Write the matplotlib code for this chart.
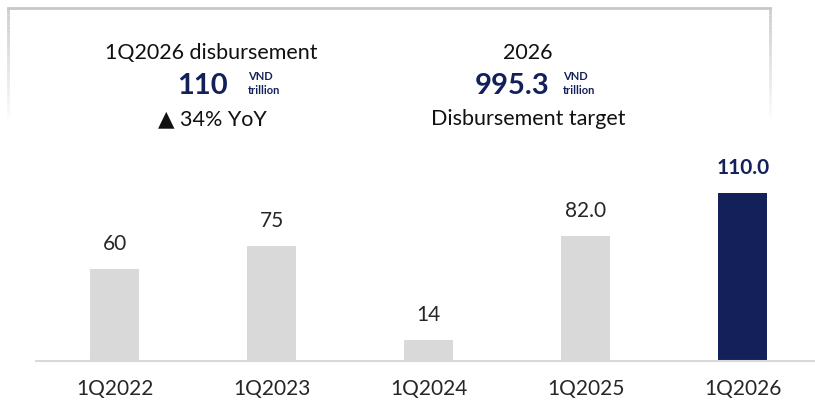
import matplotlib
matplotlib.use("Agg")
import matplotlib.pyplot as plt
import numpy as np
from matplotlib.collections import LineCollection

categories = ["1Q2022", "1Q2023", "1Q2024", "1Q2025", "1Q2026"]
values = [60, 75, 14, 82.0, 110.0]
labels = ["60", "75", "14", "82.0", "110.0"]

W, H = 815, 401
GRAY = "#D9D9D9"
NAVY = "#13205A"
FONT = ["Lato", "DejaVu Sans"]
plt.rcParams["font.family"] = FONT

fig = plt.figure(figsize=(W / 100, H / 100), dpi=100)

def fx(px):
    return px / W

def fy(py):
    return 1 - py / H

base_px = 361
top_px = 140
ax = fig.add_axes([fx(36), fy(base_px), fx(815) - fx(36), (base_px - top_px) / H])
colors = [GRAY] * 4 + [NAVY]
bars = ax.bar(np.arange(len(categories)), values, width=0.31, color=colors, zorder=2)
ax.set_xlim(-0.5, 4.46)
ax.set_ylim(0, (base_px - top_px) / 1.527)
for s in ["top", "right", "left"]:
    ax.spines[s].set_visible(False)
ax.spines["bottom"].set_color(GRAY)
ax.spines["bottom"].set_linewidth(1.5)
ax.set_yticks([])
ax.set_xticks(np.arange(len(categories)))
ax.set_xticklabels(categories, fontsize=15, color="#262626")
ax.tick_params(axis="x", length=0, pad=13)

for i, (v, lab) in enumerate(zip(values, labels)):
    last = i == len(values) - 1
    ax.annotate(lab, (i, v), xytext=(0, 18), textcoords="offset points",
                ha="center", va="center", fontsize=15,
                color=NAVY if last else "#262626",
                fontweight="bold" if last else "normal")

# header box with fading edges
n = 60
ys = np.linspace(8, 118, n + 1)
for xe in (8, 770):
    segs = [[(fx(xe), fy(ys[k])), (fx(xe), fy(ys[k + 1]))] for k in range(n)]
    alphas = np.linspace(1, 0.05, n)
    cols = [(0.78, 0.78, 0.78, a) for a in alphas]
    fig.add_artist(LineCollection(segs, colors=cols, linewidths=2, transform=fig.transFigure))
fig.add_artist(plt.Line2D([fx(8), fx(770)], [fy(8), fy(8)], color="#C8C8C8", lw=2,
                          transform=fig.transFigure))

# header texts
fig.text(fx(211), fy(53), "1Q2026 disbursement", ha="center", va="center", fontsize=15.5, color="#111111")
fig.text(fx(202), fy(86), "110", ha="center", va="center", fontsize=21, fontweight="bold", color=NAVY)
fig.text(fx(248), fy(76), "VND", ha="left", va="center", fontsize=8, fontweight="bold", color=NAVY)
fig.text(fx(248), fy(91), "trillion", ha="left", va="center", fontsize=8, fontweight="bold", color=NAVY)
fig.text(fx(212), fy(119), "\u25B2 34% YoY", ha="center", va="center", fontsize=15.5, color="#111111")

fig.text(fx(528), fy(53), "2026", ha="center", va="center", fontsize=15.5, color="#111111")
fig.text(fx(512), fy(86), "995.3", ha="center", va="center", fontsize=21, fontweight="bold", color=NAVY)
fig.text(fx(563), fy(76), "VND", ha="left", va="center", fontsize=8, fontweight="bold", color=NAVY)
fig.text(fx(563), fy(91), "trillion", ha="left", va="center", fontsize=8, fontweight="bold", color=NAVY)
fig.text(fx(528), fy(119), "Disbursement target", ha="center", va="center", fontsize=15.5, color="#111111")

fig.savefig("out.png", dpi=100)
